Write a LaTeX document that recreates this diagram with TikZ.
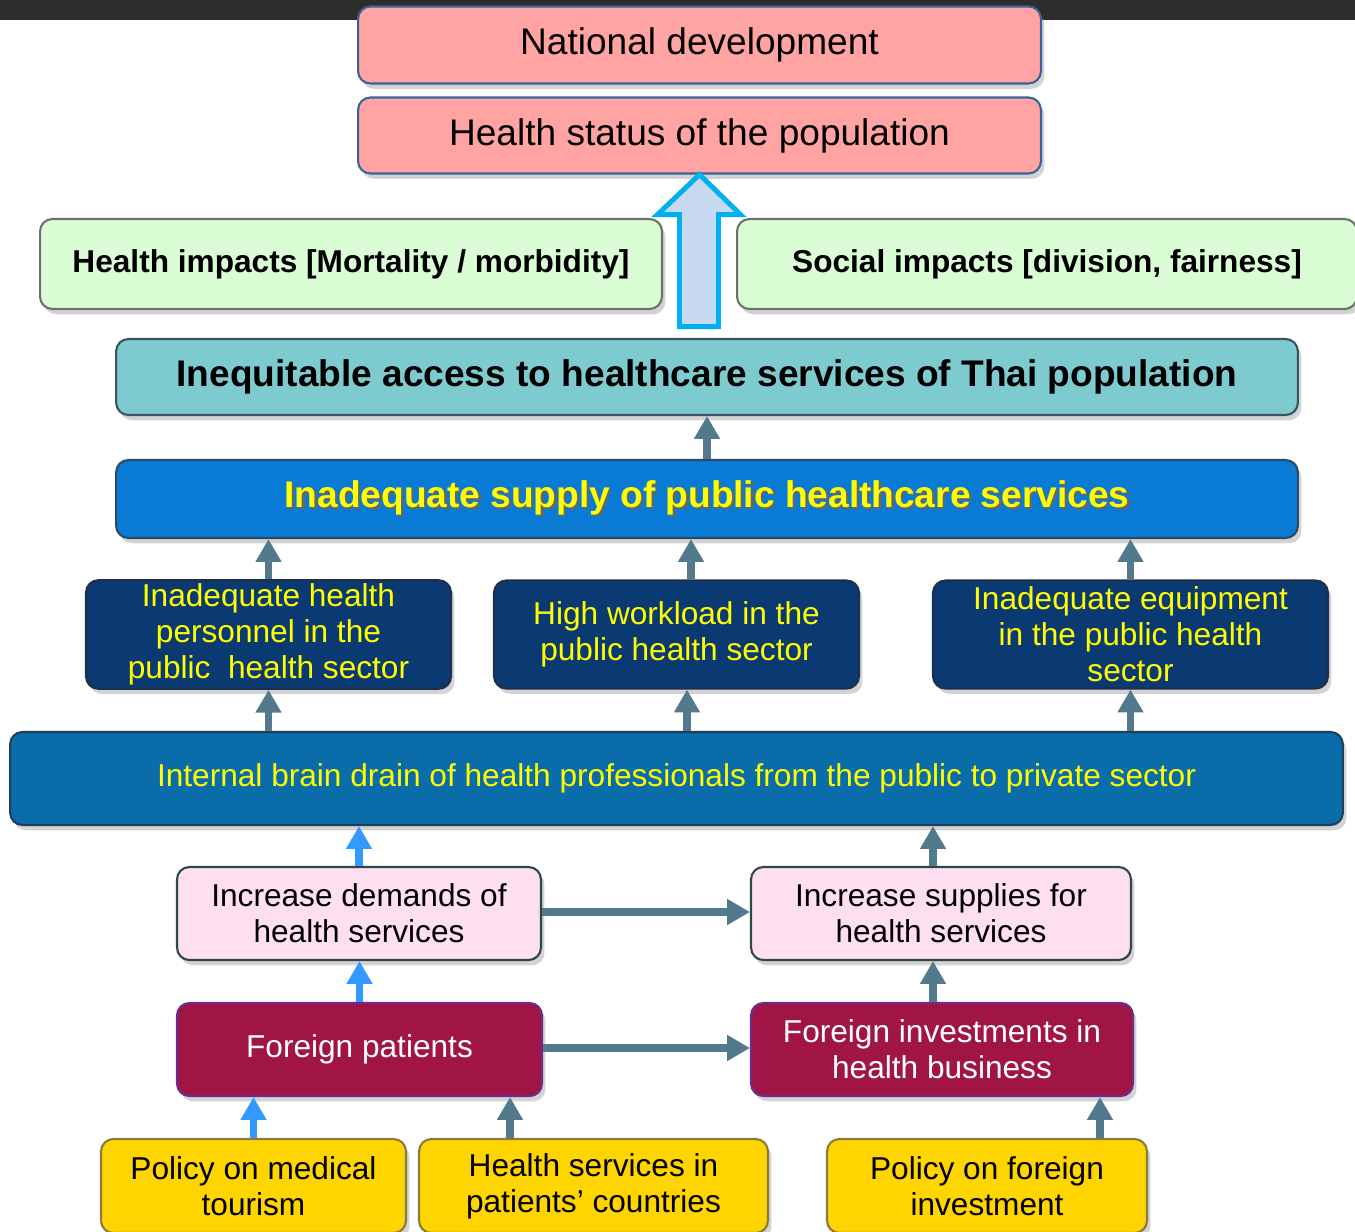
\documentclass[tikz,border=0pt]{standalone}
\usepackage{fontspec}
\setmainfont{Liberation Sans}
\usetikzlibrary{shapes.geometric, arrows.meta, positioning, shadows, calc}

\definecolor{topbar}{HTML}{2D2D2D}
\definecolor{goalred}{HTML}{FFA3A3}
\definecolor{goalline}{HTML}{3B6296}
\definecolor{impgreen}{HTML}{DAFDD6}
\definecolor{impline}{HTML}{707070}
\definecolor{accteal}{HTML}{7DCACF}
\definecolor{accline}{HTML}{3A5560}
\definecolor{supblue}{HTML}{0A7BD5}
\definecolor{supline}{HTML}{2A4A6A}
\definecolor{navybox}{HTML}{0B3A72}
\definecolor{navyline}{HTML}{1D2F4C}
\definecolor{drainblue}{HTML}{0A6CA8}
\definecolor{drainline}{HTML}{1E3F5C}
\definecolor{pinkbox}{HTML}{FDDFF0}
\definecolor{pinkline}{HTML}{2E4848}
\definecolor{maroonbox}{HTML}{A01446}
\definecolor{maroonline}{HTML}{6B2C8C}
\definecolor{goldbox}{HTML}{FFD500}
\definecolor{goldline}{HTML}{8C7A3C}
\definecolor{yellowtext}{HTML}{FFFF00}
\definecolor{slate}{HTML}{527A8C}
\definecolor{brightblue}{HTML}{3399FF}
\definecolor{bigline}{HTML}{00B0F0}
\definecolor{bigfill}{HTML}{C6D9F1}

\newcommand{\shadowedtext}[1]{\leavevmode\rlap{\kern1.3pt\raisebox{-1.3pt}{\textcolor{black!60}{#1}}}#1}

\tikzset{
    base/.style = {
        rectangle, rounded corners=7pt, line width=1.2pt, align=center, inner sep=2pt,
        drop shadow={shadow xshift=2pt, shadow yshift=-3pt, opacity=0.35},
        font=\fontsize{18}{20.5}\selectfont
    },
    % Boxes
    goal/.style    = {base, fill=goalred, draw=goalline, font=\fontsize{21.1}{25}\selectfont},
    impact/.style  = {base, fill=impgreen, draw=impline, font=\bfseries\fontsize{18}{22}\selectfont},
    access/.style  = {base, fill=accteal, draw=accline, font=\bfseries\fontsize{21.1}{25}\selectfont},
    supplybar/.style = {base, fill=supblue, draw=supline, text=yellowtext, font=\bfseries\fontsize{21.1}{25}\selectfont},
    gap/.style     = {base, fill=navybox, draw=navyline, text=yellowtext},
    drain/.style   = {base, fill=drainblue, draw=drainline, text=yellowtext},
    trend/.style   = {base, fill=pinkbox, draw=pinkline},
    driver/.style  = {base, fill=maroonbox, draw=maroonline, text=white},
    policy/.style  = {base, fill=goldbox, draw=goldline},
    % Edges
    arrow/.style      = {line width=4.5pt, draw=slate, -{Triangle[length=13pt, width=14pt]}},
    blue_arrow/.style = {arrow, draw=brightblue},
    bigarrow/.style   = {line width=2.8pt, draw=bigline, fill=bigfill, line join=miter}
}

\begin{document}
\begin{tikzpicture}[x=0.02cm, y=-0.02cm]
    \useasboundingbox (0,0) rectangle (1355,1231);
    \clip (0,0) rectangle (1355,1231);
    \fill [topbar] (0,0) rectangle (1355,20);

    \node (natdev) [goal, minimum width=13.66cm, minimum height=1.54cm] at (699.5,45) {National development};
    \node (healthstatus) [goal, minimum width=13.66cm, minimum height=1.52cm] at (699.5,135.5) {Health status of the population};

    \node (himpact) [impact, minimum width=12.44cm, minimum height=1.8cm] at (351,264) {Health impacts [Mortality / morbidity]};
    \node (simpact) [impact, minimum width=12.4cm, minimum height=1.8cm] at (1047,264) {Social impacts [division, fairness]};

    \node (access) [access, minimum width=23.64cm, minimum height=1.52cm] at (707,377) {Inequitable access to healthcare services of Thai population};
    \node (supply) [supplybar, minimum width=23.64cm, minimum height=1.56cm] at (707,499) {\shadowedtext{Inadequate supply of public healthcare services}};

    \node (personnel) [gap, minimum width=7.3cm, minimum height=2.16cm] at (268.5,634.5) {Inadequate health\\personnel in the\\public\ \ health sector};
    \node (workload) [gap, minimum width=7.3cm, minimum height=2.16cm] at (676.5,634.5) {High workload in the\\public health sector};
    \node (equip) [gap, minimum width=7.9cm, minimum height=2.16cm] at (1130.5,634.5) {Inadequate equipment\\in the public health\\sector};

    \node (drain) [drain, minimum width=26.66cm, minimum height=1.86cm] at (676.5,778.5) {Internal brain drain of health professionals from the public to private sector};

    \node (demand) [trend, minimum width=7.28cm, minimum height=1.86cm] at (359,913.5) {Increase demands of\\health services};
    \node (supplies) [trend, minimum width=7.6cm, minimum height=1.86cm] at (941,913.5) {Increase supplies for\\health services};

    \node (patients) [driver, minimum width=7.3cm, minimum height=1.86cm] at (359.5,1049.5) {Foreign patients};
    \node (invest) [driver, minimum width=7.64cm, minimum height=1.86cm] at (942,1049.5) {Foreign investments in\\health business};

    \node (tourism) [policy, minimum width=6.1cm, minimum height=1.88cm] at (253.5,1186) {Policy on medical\\tourism};
    \node (homecare) [policy, minimum width=6.98cm, minimum height=1.88cm] at (593.5,1186) {Health services in\\patients’ countries};
    \node (fdi) [policy, minimum width=6.4cm, minimum height=1.88cm] at (987,1186) {Policy on foreign\\investment};

    \draw [bigarrow] (healthstatus.south) -- ++(41,40) -- ++(-22,0) -- ++(0,112) -- ++(-39,0) -- ++(0,-112) -- ++(-22,0) -- cycle;

    \draw [arrow] (supply.north) -- (access.south);
    \draw [arrow] (personnel.north) -- (personnel.north |- supply.south);
    \draw [arrow] ($(workload.north)+(14.5,0)$) -- ($(workload.north |- supply.south)+(14.5,0)$);
    \draw [arrow] (equip.north) -- (equip.north |- supply.south);

    \draw [arrow] (personnel.south |- drain.north) -- (personnel.south);
    \draw [arrow] ($(workload.south |- drain.north)+(10.5,0)$) -- ($(workload.south)+(10.5,0)$);
    \draw [arrow] (equip.south |- drain.north) -- (equip.south);

    \draw [blue_arrow] (demand.north) -- (demand.north |- drain.south);
    \draw [arrow] ($(supplies.north)+(-8,0)$) -- ($(supplies.north |- drain.south)+(-8,0)$);
    \draw [arrow] ($(demand.east)+(0,-1.5)$) -- ($(supplies.west)+(0,-1.5)$);

    \draw [blue_arrow] (patients.north) -- (patients.north |- demand.south);
    \draw [arrow] ($(invest.north)+(-9,0)$) -- ($(invest.north |- supplies.south)+(-9,0)$);
    \draw [arrow] ($(patients.east)+(0,-1.5)$) -- ($(invest.west)+(0,-1.5)$);

    \draw [blue_arrow] (tourism.north) -- (tourism.north |- patients.south);
    \draw [arrow] ($(homecare.north)+(-83.5,0)$) -- ($(homecare.north |- patients.south)+(-83.5,0)$);
    \draw [arrow] ($(fdi.north)+(113,0)$) -- ($(fdi.north |- invest.south)+(113,0)$);
\end{tikzpicture}
\end{document}
